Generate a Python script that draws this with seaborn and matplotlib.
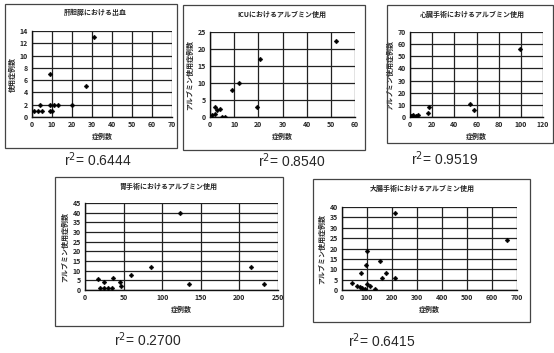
import matplotlib
matplotlib.use("Agg")
import matplotlib.pyplot as plt
from matplotlib.patches import Rectangle
import numpy as np
import pandas as pd
import seaborn as sns

sns.set_theme(style="white")
plt.rcParams["font.family"] = ["Noto Sans CJK JP", "DejaVu Sans"]

# ---- data -------------------------------------------------------------
titles = [
    "肝胆膵における出血",
    "ICUにおけるアルブミン使用",
    "心臓手術におけるアルブミン使用",
    "胃手術におけるアルブミン使用",
    "大腸手術におけるアルブミン使用",
]
ylabels = ["使用症例数", "アルブミン使用症例数", "アルブミン使用症例数",
           "アルブミン使用症例数", "アルブミン使用症例数"]
xlabel = "症例数"
r2_labels = ["0.6444", "0.8540", "0.9519", "0.2700", "0.6415"]

p1_x = [1, 3, 5, 9, 10, 4, 9, 11, 13, 20, 9, 27, 31]
p1_y = [1, 1, 1, 1, 1, 2, 2, 2, 2, 2, 7, 5, 13]

p2_x = [1, 2, 3, 4, 2, 5, 6, 9, 12, 19.5, 20.5, 52]
p2_y = [0.5, 1, 2, 2.5, 3, 0, 0, 8, 10, 3, 17, 22.5]

p3_x = [1, 2, 3, 5, 7, 16, 17, 54, 58, 99]
p3_y = [1, 0.5, 2, 1, 2, 3, 8, 11, 6, 56]

p4_x = [17, 25, 36, 45, 20, 25, 30, 35, 47, 59, 86, 123, 135, 215, 232]
p4_y = [5.5, 4.3, 6.4, 4.3, 1, 1, 1, 1, 2, 7.7, 11.7, 40, 3, 12, 3]

p5_x = [40, 60, 70, 80, 90, 100, 110, 130, 75, 97, 100, 150, 160, 177, 210, 210, 660]
p5_y = [3.5, 2, 1.5, 1, 0.5, 3, 2, 0.5, 8, 12, 19, 14, 6, 8, 6, 37, 24]

xs = [p1_x, p2_x, p3_x, p4_x, p5_x]
ys = [p1_y, p2_y, p3_y, p4_y, p5_y]
x_ticks = [np.arange(0, 71, 10), np.arange(0, 61, 10), np.arange(0, 121, 20),
           np.arange(0, 251, 50), np.arange(0, 701, 100)]
y_ticks = [np.arange(0, 15, 2), np.arange(0, 26, 5), np.arange(0, 71, 10),
           np.arange(0, 46, 5), np.arange(0, 41, 5)]

# ---- layout (figure fractions) ---------------------------------------
W, H = 554, 353
fig = plt.figure(figsize=(W / 100, H / 100), dpi=100)
fig.patch.set_facecolor("white")


def px_rect(x0, y0, x1, y1):
    """Pixel box (top-left origin) -> figure-fraction [l, b, w, h]."""
    return [x0 / W, 1 - y1 / H, (x1 - x0) / W, (y1 - y0) / H]


axes_px = [
    (32, 31, 172, 117),
    (210, 32, 355, 117),
    (410, 32, 543, 117),
    (85, 203, 278, 290),
    (342, 207, 517, 290),
]
frames_px = [
    (5, 4, 177, 148),
    (183, 5, 365, 150),
    (387, 5, 553, 143),
    (55, 177, 283, 326),
    (313, 179, 530, 322),
]
title_pos = [(95, 12), (282, 14), (472, 14), (168, 186), (422, 188)]
r2_pos = [(98, 160), (292, 161), (445, 159), (148, 340), (382, 341)]

for (fx0, fy0, fx1, fy1) in frames_px:
    fig.patches.append(Rectangle((fx0 / W, 1 - fy1 / H), (fx1 - fx0) / W,
                                 (fy1 - fy0) / H, transform=fig.transFigure,
                                 fill=False, edgecolor="#444444", lw=0.9))

for i in range(5):
    ax = fig.add_axes(px_rect(*axes_px[i]))
    df = pd.DataFrame({"x": xs[i], "y": ys[i]})
    sns.scatterplot(data=df, x="x", y="y", ax=ax, color="black", marker="D",
                    s=6, edgecolor="black", linewidth=0.3, zorder=5)
    ax.set_xlim(x_ticks[i][0], x_ticks[i][-1])
    ax.set_ylim(y_ticks[i][0], y_ticks[i][-1])
    ax.set_xticks(x_ticks[i])
    ax.set_yticks(y_ticks[i])
    ax.tick_params(axis="both", labelsize=5, length=0, pad=3)
    for lab in ax.get_xticklabels() + ax.get_yticklabels():
        lab.set_fontweight("bold")
    ax.grid(True, color="#222222", lw=0.9)
    ax.set_axisbelow(True)
    for side in ("top", "right"):
        ax.spines[side].set_visible(False)
    for side in ("left", "bottom"):
        ax.spines[side].set_color("#111111")
        ax.spines[side].set_linewidth(1.0)
    ax.set_facecolor("white")
    ax.set_xlabel(xlabel, fontsize=5, fontweight="bold", labelpad=3)
    ax.set_ylabel(ylabels[i], fontsize=5, fontweight="bold", labelpad=3)
    tx, ty = title_pos[i]
    fig.text(tx / W, 1 - ty / H, titles[i], fontsize=5, fontweight="bold",
             ha="center", va="center")
    rx, ry = r2_pos[i]
    fig.text(rx / W, 1 - ry / H, "r$^2$= " + r2_labels[i], fontsize=10,
             ha="center", va="center", family=["Liberation Sans", "DejaVu Sans"])

fig.savefig("out.png", dpi=100, facecolor="white")
